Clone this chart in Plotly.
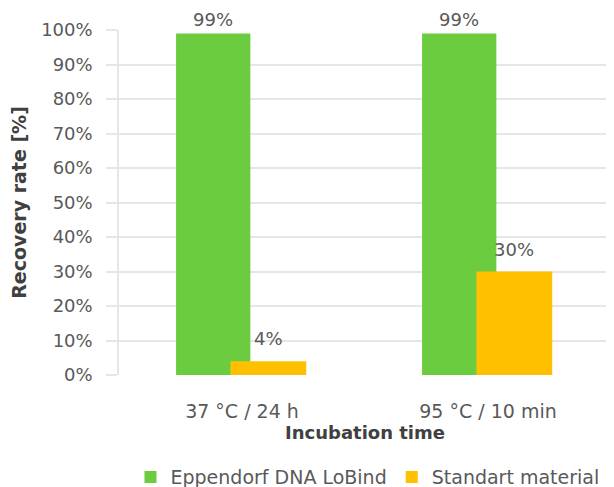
import plotly.graph_objects as go

categories = ["37 °C / 24 h", "95 °C / 10 min"]
lobind = [0.99, 0.99]
standard = [0.04, 0.30]
lobind_labels = ["99%", "99%"]
standard_labels = ["4%", "30%"]
tick_vals = [0, 0.1, 0.2, 0.3, 0.4, 0.5, 0.6, 0.7, 0.8, 0.9, 1.0]
tick_text = ["0%", "10%", "20%", "30%", "40%", "50%", "60%", "70%", "80%", "90%", "100%"]

font_family = "DejaVu Sans, sans-serif"
grey = "#595959"
dark = "#404040"
grid = "#E6E6E6"

BAR_W_G, BAR_OFF_G = 0.302, -0.268
BAR_W_O, BAR_OFF_O = 0.308, -0.047
CAT_PX = 246  # pixel width of one category band

fig = go.Figure()
fig.add_trace(go.Bar(
    x=categories, y=lobind, name="Eppendorf DNA LoBind",
    marker=dict(color="#6CCC40", line=dict(width=0)),
    width=BAR_W_G, offset=BAR_OFF_G,
))
fig.add_trace(go.Bar(
    x=categories, y=standard, name="Standart material",
    marker=dict(color="#FFC000", line=dict(width=0)),
    width=BAR_W_O, offset=BAR_OFF_O,
))

annotations = []
for cat, val, lab in zip(categories, lobind, lobind_labels):
    annotations.append(dict(
        x=cat, y=val, xref="x", yref="y", text=lab, showarrow=False,
        xanchor="center", yanchor="bottom",
        xshift=(BAR_OFF_G + BAR_W_G / 2) * CAT_PX, yshift=1,
        font=dict(size=18, color=grey, family=font_family),
    ))
for cat, val, lab in zip(categories, standard, standard_labels):
    annotations.append(dict(
        x=cat, y=val, xref="x", yref="y", text=lab, showarrow=False,
        xanchor="center", yanchor="bottom",
        xshift=(BAR_OFF_O + BAR_W_O / 2) * CAT_PX, yshift=10,
        font=dict(size=18, color=grey, family=font_family),
    ))

# The page body adds an 8px offset, so the figure is 8px smaller than the window.
fig.update_layout(
    width=606, height=479,
    barmode="overlay",
    plot_bgcolor="white", paper_bgcolor="white",
    margin=dict(l=111, r=3, t=22, b=112, autoexpand=False),
    font=dict(family=font_family, size=18, color=grey),
    annotations=annotations,
    xaxis=dict(
        title=dict(text="<b>Incubation time</b>", font=dict(size=18, color=dark, family=font_family), standoff=5),
        showline=False, ticks="outside", ticklen=19, tickcolor="rgba(0,0,0,0)",
        showgrid=False, automargin=False,
        tickfont=dict(size=19, color=grey),
    ),
    yaxis=dict(
        title=dict(text="<b>Recovery rate [%]</b>", font=dict(size=19, color=dark, family=font_family), standoff=10),
        range=[0, 1], tickvals=tick_vals, ticktext=tick_text,
        showgrid=True, gridcolor=grid, gridwidth=1.5,
        ticks="outside", ticklen=11, tickcolor=grid, tickwidth=1.5,
        ticklabelstandoff=10,
        showline=True, linecolor=grid, linewidth=1.5,
        zeroline=False, automargin=False,
        tickfont=dict(size=18, color=grey),
    ),
    showlegend=True,
    legend=dict(
        orientation="h", x=0.505, xanchor="center", y=-0.296, yanchor="middle",
        font=dict(size=19, color=grey), itemwidth=30, traceorder="normal",
    ),
)

fig.write_html("out.html")
